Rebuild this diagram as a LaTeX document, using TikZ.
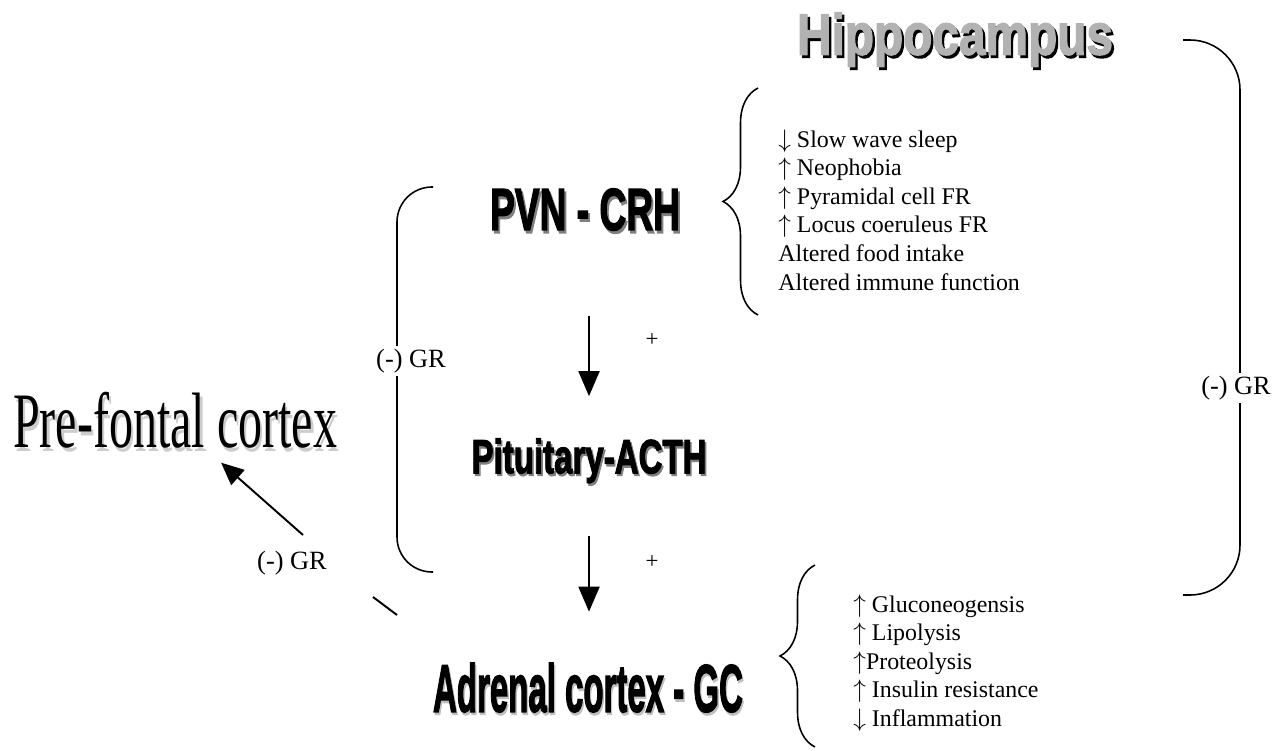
\documentclass[tikz,border=0pt]{standalone}
\usepackage{fontspec}
\setmainfont{Liberation Serif}
\newfontface\headfont[FakeBold=2.5]{Liberation Sans Bold}
\usetikzlibrary{positioning,arrows.meta,decorations.pathreplacing}

% text with a drop shadow: [offset]{text colour}{shadow colour}{text}
\newcommand{\dropshade}[4][0.05em]{%
  \makebox[0pt][l]{\hspace{#1}\raisebox{-#1}{\color{#3}#4}}{\color{#2}#4}}

\tikzset{
  title/.style={inner sep=0pt},
  effects/.style={align=left, anchor=west, inner sep=0pt,
    font=\fontsize{13.6}{16.3}\selectfont},
  gr/.style={font=\fontsize{15}{18}\selectfont, fill=white, inner sep=2pt},
  arr/.style={-{Triangle[length=0.5cm,width=0.42cm]}, line width=1.1pt},
  bracket/.style={line width=0.9pt},
  curly/.style={line width=0.9pt, decorate, decoration={brace, amplitude=0.7cm}}
}

\begin{document}
\begin{tikzpicture}[x=0.02cm, y=-0.02cm]
    \useasboundingbox (0,0) rectangle (1277,750);
    %titles
    \node[title] (hip) at (955,41) {\resizebox*{6.32cm}{1.14cm}{\headfont\dropshade[0.05em]{gray!60}{black}{Hippocampus}}};
    \node[title] (pvn) at (585,211) {\resizebox*{3.8cm}{0.9cm}{\headfont\dropshade[0.05em]{black}{gray}{PVN - CRH}}};
    \node[title] (pit) at (589,462) {\resizebox*{4.7cm}{0.94cm}{\headfont\dropshade[0.05em]{black}{gray}{Pituitary-ACTH}}};
    \node[title] (adr) at (588,689) {\resizebox*{6.2cm}{1.04cm}{\headfont\dropshade[0.04em]{black}{gray!50}{Adrenal cortex - GC}}};
    \node[title] (pfc) at (175,422) {\resizebox*{6.48cm}{1.2cm}{\dropshade[0.05em]{black}{gray!40}{Pre-fontal cortex}}};
    %effects
    \node[effects] (cns) at (778,210) {$\downarrow$ Slow wave sleep\\$\uparrow$ Neophobia\\$\uparrow$ Pyramidal cell FR\\$\uparrow$ Locus coeruleus FR\\Altered food intake\\Altered immune function};
    \node[effects] (body) at (853,663) {$\uparrow$ Gluconeogensis\\$\uparrow$ Lipolysis\\$\uparrow$Proteolysis\\$\uparrow$ Insulin resistance\\$\downarrow$ Inflammation};
    %braces
    \coordinate (cnstop) at (758,88);
    \coordinate (cnsbot) at (758,315);
    \coordinate (bodytop) at (815,565);
    \coordinate (bodybot) at (815,747);
    \draw[curly] (cnsbot) -- (cnstop);
    \draw[curly] (bodybot) -- (bodytop);
    %feedback brackets
    \coordinate (lbtop) at (433,187);
    \coordinate (lbbot) at (433,572);
    \coordinate (rbtop) at (1183,40);
    \coordinate (rbbot) at (1183,595);
    \draw[bracket, rounded corners=0.7cm] (lbtop) -- (397,187) -- (397,572) -- (lbbot);
    \draw[bracket, rounded corners=1cm] (rbtop) -- (1240,40) -- (1240,595) -- (rbbot);
    \node[gr] (grleft) at (411,361) {(-) GR};
    \node[gr] (grright) at (1236,388) {(-) GR};
    %edges
    \draw[arr, shorten <=1.64cm, shorten >=0.84cm] (pit.north |- pvn.south) -- (pit.north);
    \draw[arr, shorten <=1cm, shorten >=1.02cm] (pit.south) -- (pit.south |- adr.north);
    \node[font=\fontsize{13}{16}\selectfont] (plus1) at (652,340) {+};
    \node[font=\fontsize{13}{16}\selectfont] (plus2) at (652,562) {+};
    \coordinate (pfcfoot) at (303,535);
    \draw[line width=1.1pt, -{Triangle[length=0.45cm,width=0.4cm]}, shorten >=1.23cm] (pfcfoot) -- (pfc.center);
    \node[gr, fill=none] (grpfc) at (292,563) {(-) GR};
    \coordinate (tick1) at (373,597);
    \coordinate (tick2) at (397,615);
    \draw[line width=1.1pt] (tick1) -- (tick2);
\end{tikzpicture}
\end{document}
